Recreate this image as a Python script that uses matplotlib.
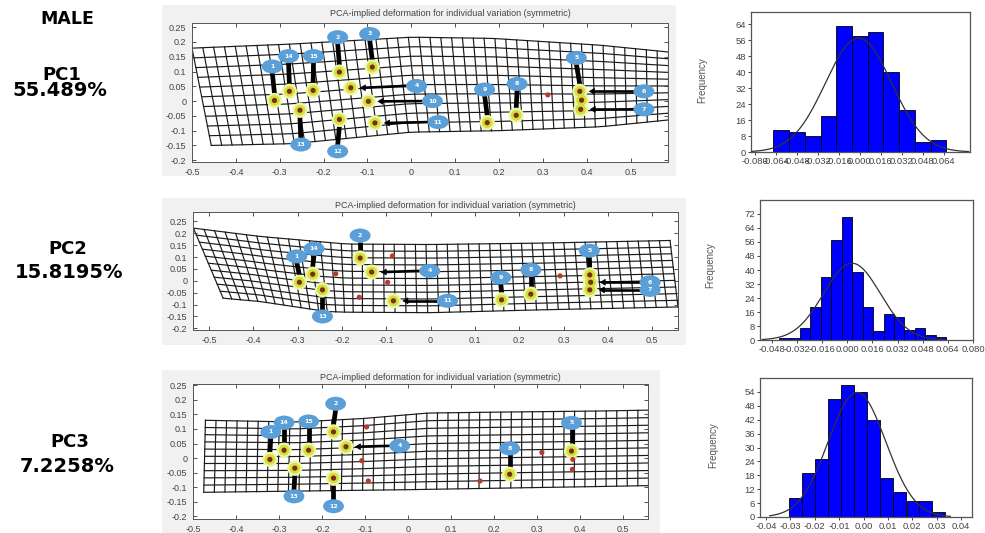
import numpy as np
import matplotlib
matplotlib.use("Agg")
import matplotlib.pyplot as plt
from matplotlib.patches import Ellipse, Rectangle

plt.rcParams['axes.unicode_minus'] = False
W, H = 985, 533

# ---------------- text ----------------
side_title = "MALE"
pc_names = ["PC1", "PC2", "PC3"]
pc_variance = ["55.489%", "15.8195%", "7.2258%"]
panel_title = "PCA-implied deformation for individual variation (symmetric)"

# ---------------- deformation panels ----------------
# PC1
pc1_lm_x = [-0.312, -0.278, -0.224, -0.254, -0.164, -0.138, -0.164, -0.089, -0.098, -0.083, 0.173, 0.239, 0.384, 0.388, 0.386]
pc1_lm_y = [0.002, 0.033, 0.036, -0.031, 0.098, 0.045, -0.062, 0.115, -0.001, -0.074, -0.073, -0.048, 0.033, 0.003, -0.028]
pc1_lab_text = ["1", "14", "15", "2", "3", "13", "12", "4", "10", "11", "9", "8", "5", "6", "7"]
pc1_lab_x = [-0.317, -0.280, -0.223, -0.168, -0.095, -0.252, -0.168, 0.012, 0.048, 0.061, 0.167, 0.241, 0.376, 0.530, 0.530]
pc1_lab_y = [0.117, 0.152, 0.152, 0.216, 0.227, -0.147, -0.170, 0.051, 0.000, -0.071, 0.039, 0.058, 0.146, 0.033, -0.028]
pc1_lab_to = [0, 1, 2, 4, 7, 3, 6, 5, 8, 9, 10, 11, 12, 12, 14]
pc1_red_x = [0.311]
pc1_red_y = [0.021]
pc1_top_x = [-0.500, -0.270, 0.000, 0.184, 0.430, 0.585]
pc1_top_y = [0.179, 0.193, 0.216, 0.212, 0.189, 0.166]
pc1_bot_x = [-0.456, -0.270, 0.000, 0.200, 0.430, 0.585]
pc1_bot_y = [-0.150, -0.144, -0.105, -0.100, -0.087, -0.064]
pc1_col_u = [0.0, 1.0]
pc1_col_top = [-0.500, 0.585]
pc1_col_bot = [-0.456, 0.585]

# PC2
pc2_lm_x = [-0.296, -0.266, -0.244, -0.159, -0.133, -0.084, 0.160, 0.226, 0.359, 0.361, 0.359]
pc2_lm_y = [-0.006, 0.028, -0.038, 0.096, 0.037, -0.084, -0.080, -0.056, 0.025, -0.006, -0.038]
pc2_lab_text = ["1", "14", "2", "13", "4", "11", "9", "8", "5", "6", "7"]
pc2_lab_x = [-0.302, -0.263, -0.159, -0.244, -0.002, 0.038, 0.158, 0.226, 0.358, 0.495, 0.495]
pc2_lab_y = [0.103, 0.135, 0.191, -0.150, 0.042, -0.084, 0.014, 0.046, 0.127, -0.006, -0.038]
pc2_lab_to = [0, 1, 3, 2, 4, 5, 6, 7, 8, 9, 10]
pc2_red_x = [-0.214, -0.086, -0.097, -0.161, 0.292]
pc2_red_y = [0.030, 0.105, -0.006, -0.069, 0.021]
pc2_top_x = [-0.535, -0.385, -0.190, 0.000, 0.250, 0.540]
pc2_top_y = [0.222, 0.187, 0.155, 0.153, 0.159, 0.170]
pc2_bot_x = [-0.468, -0.385, -0.235, -0.190, 0.000, 0.250, 0.558]
pc2_bot_y = [-0.073, -0.087, -0.129, -0.132, -0.134, -0.122, -0.110]
pc2_col_u = [0.0, 0.35, 1.0]
pc2_col_top = [-0.535, -0.160, 0.540]
pc2_col_bot = [-0.468, -0.160, 0.558]

# PC3
pc3_lm_x = [-0.321, -0.288, -0.231, -0.263, -0.173, -0.144, -0.173, 0.237, 0.381]
pc3_lm_y = [-0.005, 0.027, 0.027, -0.035, 0.090, 0.039, -0.069, -0.056, 0.024]
pc3_lab_text = ["1", "14", "15", "2", "13", "12", "4", "8", "5"]
pc3_lab_x = [-0.319, -0.288, -0.231, -0.168, -0.265, -0.173, -0.019, 0.237, 0.381]
pc3_lab_y = [0.090, 0.122, 0.126, 0.187, -0.132, -0.166, 0.042, 0.033, 0.121]
pc3_lab_to = [0, 1, 2, 4, 3, 6, 5, 7, 8]
pc3_red_x = [-0.096, -0.107, -0.092, 0.168, 0.312, 0.384, 0.383]
pc3_red_y = [0.107, -0.009, -0.079, -0.079, 0.019, -0.005, -0.039]
pc3_top_x = [-0.471, -0.259, -0.105, 0.048, 0.202, 0.450, 0.560]
pc3_top_y = [0.130, 0.124, 0.136, 0.155, 0.158, 0.162, 0.165]
pc3_bot_x = [-0.475, 0.000, 0.450, 0.560]
pc3_bot_y = [-0.118, -0.109, -0.098, -0.095]
pc3_col_u = [0.0, 1.0]
pc3_col_top = [-0.471, 0.560]
pc3_col_bot = [-0.475, 0.560]

def_xticks = [-0.5, -0.4, -0.3, -0.2, -0.1, 0, 0.1, 0.2, 0.3, 0.4, 0.5]
def_yticks = [0.25, 0.2, 0.15, 0.1, 0.05, 0, -0.05, -0.1, -0.15, -0.2]

# ---------------- histograms ----------------
h1_centers = [-0.060, -0.048, -0.036, -0.024, -0.012, 0.000, 0.012, 0.024, 0.036, 0.048, 0.060]
h1_counts = [11, 10, 8, 18, 63, 58, 60, 40, 21, 5, 6]
h1_fit_mean, h1_fit_sd = -0.001, 0.0252
h1_xticks = [-0.080, -0.064, -0.048, -0.032, -0.016, 0.000, 0.016, 0.032, 0.048, 0.064]
h1_yticks = [0, 8, 16, 24, 32, 40, 48, 56, 64]

h2_centers = [-0.0400, -0.0334, -0.0267, -0.0201, -0.0134, -0.0068, -0.0002, 0.0065,
              0.0131, 0.0198, 0.0264, 0.0330, 0.0397, 0.0463, 0.0530, 0.0596]
h2_counts = [1, 1, 7, 19, 36, 57, 70, 39, 19, 5, 15, 13, 6, 7, 3, 2]
h2_fit_mean, h2_fit_sd = 0.003, 0.018
h2_xticks = [-0.048, -0.032, -0.016, 0.000, 0.016, 0.032, 0.048, 0.064, 0.080]
h2_yticks = [0, 8, 16, 24, 32, 40, 48, 56, 64, 72]

h3_centers = [-0.0278, -0.0225, -0.0172, -0.0118, -0.0065, -0.0011, 0.0042, 0.0096,
              0.0149, 0.0203, 0.0256, 0.0309]
h3_counts = [8, 19, 25, 51, 57, 54, 42, 17, 11, 7, 7, 2]
h3_fit_mean, h3_fit_sd = -0.0027, 0.0118
h3_xticks = [-0.04, -0.03, -0.02, -0.01, 0.00, 0.01, 0.02, 0.03, 0.04]
h3_yticks = [0, 6, 12, 18, 24, 30, 36, 42, 48, 54]

# ---------------- drawing ----------------
fig = plt.figure(figsize=(W / 100, H / 100), dpi=100)
fig.patch.set_facecolor('white')


def px_axes(x0, y0, x1, y1):
    return fig.add_axes([x0 / W, 1 - y1 / H, (x1 - x0) / W, (y1 - y0) / H])


def px_rect(x0, y0, x1, y1, color):
    fig.add_artist(Rectangle((x0 / W, 1 - y1 / H), (x1 - x0) / W, (y1 - y0) / H,
                             transform=fig.transFigure, facecolor=color,
                             edgecolor='none', zorder=0))


TICKFONT = 'Liberation Sans'


def draw_grid(ax, top_x, top_y, bot_x, bot_y, col_u, col_top, col_bot, ncols, nrows):
    u = np.linspace(0, 1, ncols + 1)
    xt = np.interp(u, col_u, col_top)
    xb = np.interp(u, col_u, col_bot)
    yt = np.interp(xt, top_x, top_y)
    yb = np.interp(xb, bot_x, bot_y)
    for i in range(ncols + 1):
        ax.plot([xt[i], xb[i]], [yt[i], yb[i]], color='#1a1a1a', lw=0.85, zorder=1)
    for v in np.linspace(0, 1, nrows + 1):
        ax.plot(xt + v * (xb - xt), yt + v * (yb - yt), color='#1a1a1a', lw=0.85, zorder=1)


def deformation_panel(box, bg, xlim, ylim, lm_x, lm_y, lab_text, lab_x, lab_y, lab_to,
                      red_x, red_y, grid, ncols, title_y):
    px_rect(*bg, '#f1f1f1')
    ax = px_axes(*box)
    ax.set_facecolor('white')
    ax.set_xlim(*xlim)
    ax.set_ylim(*ylim)
    draw_grid(ax, *grid, ncols, 10)
    sx = (box[2] - box[0]) / (xlim[1] - xlim[0])
    sy = (box[3] - box[1]) / (ylim[1] - ylim[0])
    # displacement vectors
    for t, bx, by, k in zip(lab_text, lab_x, lab_y, lab_to):
        lx, ly = lm_x[k], lm_y[k]
        dxp, dyp = (lx - bx) * sx, (ly - by) * sy
        if abs(dyp) > abs(dxp):
            sgn = np.sign(dyp)
            y0 = by + sgn * 6 / sy
            y1 = ly - sgn * 7 / sy
            ax.plot([bx, lx], [y0, y1], color='black', lw=3.4, solid_capstyle='butt',
                    zorder=3)
        else:
            sgn = np.sign(dxp)
            x0 = bx + sgn * 10 / sx
            x1 = lx - sgn * 9 / sx
            ax.plot([x0, x1 - sgn * 3 / sx], [by, ly], color='black', lw=1.9,
                    solid_capstyle='butt', zorder=3)
            ax.annotate('', xy=(x1, ly), xytext=(x1 - sgn * 4 / sx, ly),
                        arrowprops=dict(arrowstyle='-|>,head_length=0.5,head_width=0.3',
                                        lw=0.5, color='black', shrinkA=0, shrinkB=0,
                                        mutation_scale=7),
                        zorder=3)
    # landmarks
    ax.scatter(lm_x, lm_y, s=120, color='#eef5a8', edgecolors='none', zorder=4)
    ax.scatter(lm_x, lm_y, s=60, color='#d3df3c', edgecolors='none', zorder=4)
    ax.scatter(lm_x, lm_y, s=14, color='#7b2d0c', edgecolors='none', zorder=5)
    ax.scatter(red_x, red_y, s=14, color='#b83a2c', edgecolors='none', zorder=5)
    # blue labels
    for t, bx, by in zip(lab_text, lab_x, lab_y):
        ax.add_patch(Ellipse((bx, by), width=21 / sx, height=14 / sy,
                             facecolor='#5a9fd8', edgecolor='none', zorder=6))
        ax.text(bx, by, t, color='white', fontsize=4.5, fontweight='bold',
                ha='center', va='center', zorder=7)
    ax.set_xticks(def_xticks)
    ax.set_xticklabels([f"{v:g}" for v in def_xticks])
    ax.set_yticks(def_yticks)
    ax.set_yticklabels([f"{v:g}" for v in def_yticks])
    ax.tick_params(direction='in', length=3, width=0.6, top=True, right=True,
                   labelsize=6.5, colors='#333333', pad=4)
    for lab in ax.get_xticklabels() + ax.get_yticklabels():
        lab.set_fontfamily(TICKFONT)
        lab.set_color('#444444')
    for s in ax.spines.values():
        s.set_color('#555555')
        s.set_linewidth(0.7)
    cx = (box[0] + box[2]) / 2 + 20
    fig.text(cx / W, 1 - title_y / H, panel_title, fontsize=6.5, family=TICKFONT,
             color='#444444', ha='center', va='center')
    return ax


deformation_panel((192, 23, 668, 162), (162, 5, 676, 176), (-0.50, 0.585), (-0.206, 0.264),
                  pc1_lm_x, pc1_lm_y, pc1_lab_text, pc1_lab_x, pc1_lab_y, pc1_lab_to,
                  pc1_red_x, pc1_red_y,
                  (pc1_top_x, pc1_top_y, pc1_bot_x, pc1_bot_y, pc1_col_u, pc1_col_top, pc1_col_bot),
                  44, 13)
deformation_panel((193, 212, 678, 330), (162, 198, 686, 345), (-0.536, 0.558), (-0.207, 0.29),
                  pc2_lm_x, pc2_lm_y, pc2_lab_text, pc2_lab_x, pc2_lab_y, pc2_lab_to,
                  pc2_red_x, pc2_red_y,
                  (pc2_top_x, pc2_top_y, pc2_bot_x, pc2_bot_y, pc2_col_u, pc2_col_top, pc2_col_bot),
                  45, 205)
deformation_panel((193, 384, 648, 519), (162, 370, 660, 533), (-0.491, 0.559), (-0.21, 0.255),
                  pc3_lm_x, pc3_lm_y, pc3_lab_text, pc3_lab_x, pc3_lab_y, pc3_lab_to,
                  pc3_red_x, pc3_red_y,
                  (pc3_top_x, pc3_top_y, pc3_bot_x, pc3_bot_y, pc3_col_u, pc3_col_top, pc3_col_bot),
                  42, 377)


def histogram(box, centers, counts, fit_mean, fit_sd, xlim, ylim, xticks, yticks, xfmt,
              curve_range, ylabel_xy):
    ax = px_axes(*box)
    w = centers[1] - centers[0]
    ax.bar(centers, counts, width=w, color='#0000ff', edgecolor='black', linewidth=0.6,
           zorder=2)
    n = sum(counts)
    xs = np.linspace(curve_range[0], curve_range[1], 300)
    ys = n * w * np.exp(-0.5 * ((xs - fit_mean) / fit_sd) ** 2) / (fit_sd * np.sqrt(2 * np.pi))
    ax.plot(xs, ys, color='#333333', lw=0.9, zorder=3)
    ax.set_xlim(*xlim)
    ax.set_ylim(*ylim)
    ax.set_xticks(xticks)
    ax.set_xticklabels([xfmt.format(v) for v in xticks])
    ax.set_yticks(yticks)
    ax.tick_params(direction='out', length=2.5, width=0.7, labelsize=6.8, colors='#444444', pad=1)
    for lab in ax.get_xticklabels() + ax.get_yticklabels():
        lab.set_fontfamily(TICKFONT)
    for s in ax.spines.values():
        s.set_color('#555555')
        s.set_linewidth(0.9)
    fig.text(ylabel_xy[0] / W, 1 - ylabel_xy[1] / H, 'Frequency', rotation=90,
             fontsize=7, family=TICKFONT, color='#555555', ha='center', va='center')


histogram((751, 12, 970, 152), h1_centers, h1_counts, h1_fit_mean, h1_fit_sd,
          (-0.083, 0.084), (0, 70), h1_xticks, h1_yticks, "{:.3f}", (-0.0825, 0.083), (702, 80))
histogram((760, 200, 973, 340), h2_centers, h2_counts, h2_fit_mean, h2_fit_sd,
          (-0.0555, 0.080), (0, 80), h2_xticks, h2_yticks, "{:.3f}", (-0.054, 0.0615), (710, 265))
histogram((760, 378, 972, 517), h3_centers, h3_counts, h3_fit_mean, h3_fit_sd,
          (-0.0425, 0.0445), (0, 60), h3_xticks, h3_yticks, "{:.2f}", (-0.0385, 0.0356), (713, 445))

# ---------------- left labels ----------------
fig.text(67 / W, 1 - 19 / H, side_title, fontsize=12.5, fontweight='bold',
         family='DejaVu Sans', ha='center', va='center')
name_pos = [(62, 75), (68, 249), (70, 442)]
var_pos = [(60, 91), (69, 273), (67, 466)]
for name, var, (nx, ny), (vx, vy) in zip(pc_names, pc_variance, name_pos, var_pos):
    fig.text(nx / W, 1 - ny / H, name, fontsize=13, fontweight='bold',
             family='DejaVu Sans', ha='center', va='center')
    fig.text(vx / W, 1 - vy / H, var, fontsize=14, fontweight='bold',
             family='DejaVu Sans', ha='center', va='center')

fig.savefig('out.png', dpi=100)
